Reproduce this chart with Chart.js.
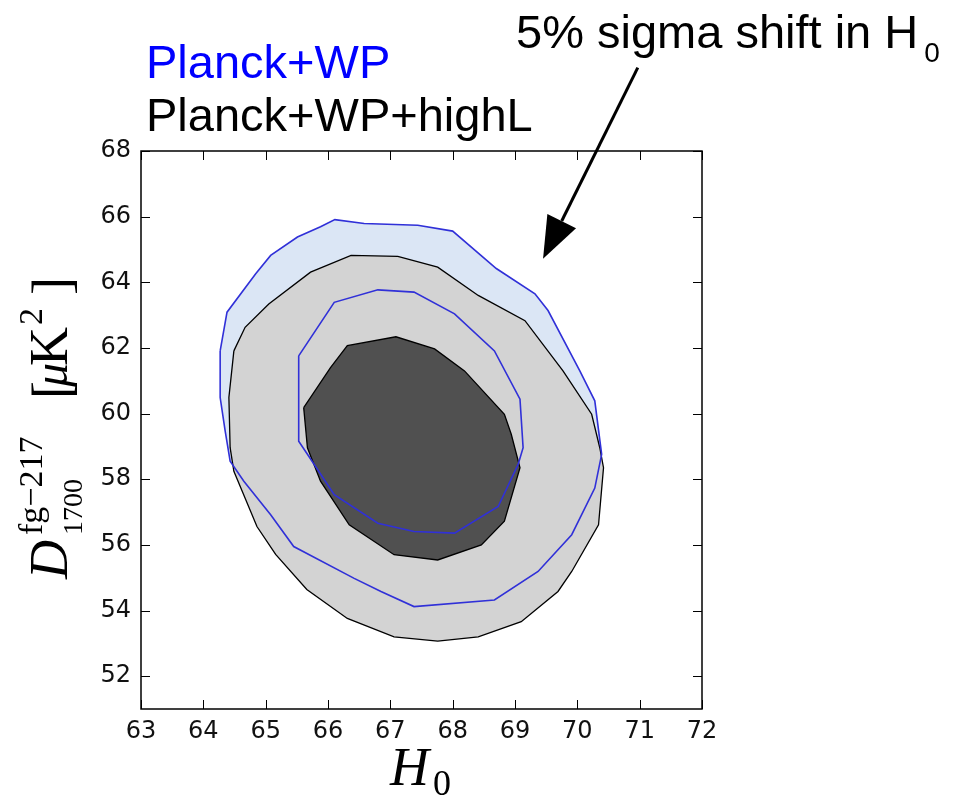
<!DOCTYPE html>
<html>
<head>
<meta charset="utf-8">
<script src="https://cdn.jsdelivr.net/npm/chart.js@4.4.1/dist/chart.umd.min.js"></script>
<style>
html, body { margin: 0; padding: 0; background: #fff; }
</style>
</head>
<body>
<canvas id="myChart" width="959" height="797"></canvas>
<script>
// axis ticks
var xTicks = [63, 64, 65, 66, 67, 68, 69, 70, 71, 72]
var yTicks = [52, 54, 56, 58, 60, 62, 64, 66, 68]

// Planck+WP+highL, 2 sigma contour
var highL2H0 = [64.49, 64.67, 65.05, 65.72, 66.37, 67.12, 67.76, 68.41, 69.16, 69.77, 70.23, 70.36, 70.42, 70.34, 69.91, 69.69, 69.10, 68.41, 67.76, 67.06, 66.31, 65.66, 65.16, 64.86, 64.49, 64.43, 64.41]
var highL2D = [61.91, 62.63, 63.34, 64.31, 64.82, 64.79, 64.46, 63.60, 62.83, 61.30, 59.98, 58.96, 58.35, 56.61, 55.19, 54.58, 53.66, 53.20, 53.07, 53.20, 53.76, 54.64, 55.71, 56.56, 58.24, 58.96, 60.49]

// Planck+WP+highL, 1 sigma contour
var highL1H0 = [65.61, 66.04, 66.31, 67.09, 67.71, 68.19, 68.83, 68.94, 69.08, 68.83, 68.46, 67.76, 67.06, 66.34, 65.88, 65.67]
var highL1D = [60.18, 61.40, 62.07, 62.34, 61.97, 61.30, 59.98, 59.37, 58.35, 56.72, 56.00, 55.54, 55.70, 56.61, 57.94, 58.96]

// Planck+WP, 2 sigma contour
var wp2H0 = [64.27, 64.38, 64.84, 65.08, 65.51, 65.88, 66.11, 66.58, 67.44, 68.00, 68.70, 69.32, 69.53, 70.04, 70.28, 70.39, 70.28, 69.91, 69.37, 68.67, 67.38, 66.85, 66.42, 65.45, 65.08, 64.65, 64.43, 64.35, 64.27]
var wp2D = [61.91, 63.09, 64.26, 64.82, 65.38, 65.69, 65.91, 65.79, 65.74, 65.56, 64.42, 63.65, 63.14, 61.30, 60.39, 58.76, 57.73, 56.31, 55.19, 54.32, 54.12, 54.58, 54.98, 55.95, 56.92, 57.94, 58.55, 59.47, 60.49]

// Planck+WP, 1 sigma contour
var wp1H0 = [65.53, 66.10, 66.80, 67.38, 68.03, 68.67, 69.08, 69.13, 69.05, 68.73, 68.03, 67.38, 66.80, 66.10, 65.67, 65.53]
var wp1D = [61.76, 63.39, 63.77, 63.70, 63.04, 61.91, 60.44, 58.96, 58.45, 57.17, 56.36, 56.41, 56.66, 57.53, 58.76, 59.16]

// arrow: tail and tip in (H0, D)
var arrowFrom = [70.97, 70.54]
var arrowTo = [69.45, 64.72]

function closedPath(xs, ys) {
    var pts = []
    for (var i = 0; i < xs.length; i++) {
        pts.push({x: xs[i], y: ys[i]})
    }
    pts.push({x: xs[0], y: ys[0]})
    return pts
}

var lightBlue = '#dbe6f5'
var blueLine = '#3030d8'

var frameAndText = {
    id: 'frameAndText',
    afterDraw: function(chart) {
        var ctx = chart.ctx
        var a = chart.chartArea
        var xs = chart.scales.x
        var ys = chart.scales.y
        ctx.save()

        // ticks point inward on all four sides
        ctx.strokeStyle = '#000'
        ctx.lineWidth = 1
        ctx.beginPath()
        xTicks.forEach(function(v) {
            var px = Math.round(xs.getPixelForValue(v)) + 0.5
            ctx.moveTo(px, a.bottom); ctx.lineTo(px, a.bottom - 9)
            ctx.moveTo(px, a.top); ctx.lineTo(px, a.top + 9)
        })
        yTicks.forEach(function(v) {
            var py = Math.round(ys.getPixelForValue(v)) + 0.5
            ctx.moveTo(a.left, py); ctx.lineTo(a.left + 9, py)
            ctx.moveTo(a.right, py); ctx.lineTo(a.right - 9, py)
        })
        ctx.stroke()
        ctx.lineWidth = 1.5
        ctx.strokeRect(a.left, a.top, a.right - a.left, a.bottom - a.top)

        // arrow
        var x0 = xs.getPixelForValue(arrowFrom[0]), y0 = ys.getPixelForValue(arrowFrom[1])
        var x1 = xs.getPixelForValue(arrowTo[0]), y1 = ys.getPixelForValue(arrowTo[1])
        var ang = Math.atan2(y1 - y0, x1 - x0)
        var headLen = 42, headW = 16
        var bx = x1 - headLen * Math.cos(ang), by = y1 - headLen * Math.sin(ang)
        ctx.lineWidth = 3
        ctx.beginPath()
        ctx.moveTo(x0, y0); ctx.lineTo(bx, by)
        ctx.stroke()
        ctx.fillStyle = '#000'
        ctx.beginPath()
        ctx.moveTo(x1, y1)
        ctx.lineTo(bx + headW * Math.sin(ang), by - headW * Math.cos(ang))
        ctx.lineTo(bx - headW * Math.sin(ang), by + headW * Math.cos(ang))
        ctx.closePath()
        ctx.fill()

        // legend text and note
        ctx.textBaseline = 'alphabetic'
        ctx.textAlign = 'left'
        ctx.font = '47px "Liberation Sans", Arial, sans-serif'
        ctx.fillStyle = '#0000ff'
        ctx.fillText('Planck+WP', 146, 78)
        ctx.fillStyle = '#000'
        ctx.fillText('Planck+WP+highL', 146, 131)
        var note = '5% sigma shift in H'
        ctx.fillText(note, 516, 48)
        var nw = ctx.measureText(note).width
        ctx.font = '28px "Liberation Sans", Arial, sans-serif'
        ctx.fillText('0', 516 + nw + 6, 62)

        // x label
        ctx.font = 'italic 54px "Liberation Serif", "DejaVu Serif", serif'
        ctx.fillText('H', 390, 785)
        ctx.font = '36px "Liberation Serif", "DejaVu Serif", serif'
        ctx.fillText('0', 433, 795)

        // y label, reads bottom to top
        ctx.translate(67, 577)
        ctx.rotate(-Math.PI / 2)
        ctx.font = 'italic 54px "Liberation Serif", "DejaVu Serif", serif'
        ctx.fillText('D', -2, 0)
        ctx.font = '34px "Liberation Serif", "DejaVu Serif", serif'
        ctx.fillText('fg\u2212217', 42, -25)
        ctx.font = '28px "Liberation Serif", "DejaVu Serif", serif'
        ctx.fillText('1700', 42, 15)
        ctx.font = '54px "Liberation Serif", "DejaVu Serif", serif'
        ctx.fillText('[', 178, 3)
        ctx.font = 'italic 48px "Liberation Serif", "DejaVu Serif", serif'
        ctx.fillText('\u03bc', 190, 0)
        ctx.font = '54px "Liberation Serif", "DejaVu Serif", serif'
        ctx.fillText('K', 211, 0)
        ctx.font = '34px "Liberation Serif", "DejaVu Serif", serif'
        ctx.fillText('2', 252, -25)
        ctx.font = '54px "Liberation Serif", "DejaVu Serif", serif'
        ctx.fillText(']', 282, 3)

        ctx.restore()
    }
}

var ctx = document.getElementById('myChart').getContext('2d')
var myChart = new Chart(ctx, {
    type: 'scatter',
    data: {
        datasets: [
            {
                // drawn last: blue outlines on top
                label: 'Planck+WP 1 sigma',
                data: closedPath(wp1H0, wp1D),
                showLine: true,
                fill: false,
                borderColor: blueLine,
                borderWidth: 1.6,
                pointRadius: 0,
            },
            {
                label: 'Planck+WP 2 sigma',
                data: closedPath(wp2H0, wp2D),
                showLine: true,
                fill: false,
                borderColor: blueLine,
                borderWidth: 1.6,
                pointRadius: 0,
            },
            {
                label: 'Planck+WP+highL 1 sigma',
                data: closedPath(highL1H0, highL1D),
                showLine: true,
                fill: 'shape',
                backgroundColor: '#505050',
                borderColor: '#000',
                borderWidth: 1.3,
                pointRadius: 0,
            },
            {
                label: 'Planck+WP+highL 2 sigma',
                data: closedPath(highL2H0, highL2D),
                showLine: true,
                fill: 'shape',
                backgroundColor: '#d3d3d3',
                borderColor: '#000',
                borderWidth: 1.3,
                pointRadius: 0,
            },
            {
                // drawn first: light blue area under everything
                label: 'Planck+WP 2 sigma area',
                data: closedPath(wp2H0, wp2D),
                showLine: true,
                fill: 'shape',
                backgroundColor: lightBlue,
                borderWidth: 0,
                pointRadius: 0,
            },
        ]
    },
    options: {
        responsive: false,
        animation: false,
        layout: {
            padding: {left: 0, top: 151, right: 257, bottom: 0}
        },
        scales: {
            x: {
                type: 'linear',
                min: 63,
                max: 72,
                afterFit: function(s) { s.height = 88 },
                afterBuildTicks: function(s) { s.ticks = xTicks.map(function(v) { return {value: v} }) },
                grid: {display: false, drawTicks: false},
                border: {display: false},
                ticks: {
                    padding: 8,
                    color: '#111',
                    font: {family: '"DejaVu Sans", sans-serif', size: 24},
                    maxRotation: 0,
                    autoSkip: false,
                }
            },
            y: {
                type: 'linear',
                min: 51,
                max: 68,
                afterFit: function(s) { s.width = 141 },
                afterBuildTicks: function(s) { s.ticks = yTicks.map(function(v) { return {value: v} }) },
                grid: {display: false, drawTicks: false},
                border: {display: false},
                ticks: {
                    padding: 10,
                    color: '#111',
                    font: {family: '"DejaVu Sans", sans-serif', size: 24},
                    autoSkip: false,
                }
            }
        },
        plugins: {
            legend: {display: false},
            tooltip: {enabled: false},
        }
    },
    plugins: [frameAndText]
})
</script>
</body>
</html>
